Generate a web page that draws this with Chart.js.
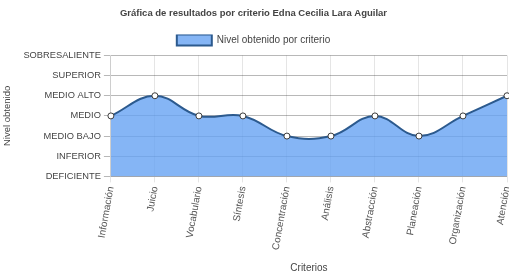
<!DOCTYPE html>
<html>
<head>
<meta charset="utf-8">
<script src="https://cdn.jsdelivr.net/npm/chart.js@4.4.0/dist/chart.umd.min.js"></script>
<style>
  html, body { margin: 0; padding: 0; background: #fff; }
  #wrap { width: 509px; height: 278px; }
</style>
</head>
<body>
<div id="wrap"><canvas id="grafica"></canvas></div>
<script>
var criterios = ['Información', 'Juicio', 'Vocabulario', 'Síntesis', 'Concentración', 'Análisis', 'Abstracción', 'Planeación', 'Organización', 'Atención'];
var niveles = ['DEFICIENTE', 'INFERIOR', 'MEDIO BAJO', 'MEDIO', 'MEDIO ALTO', 'SUPERIOR', 'SOBRESALIENTE'];
var puntaje = [3, 4, 3, 3, 2, 2, 3, 2, 3, 4];

Chart.defaults.font.family = "'Liberation Sans', Arial, sans-serif";
Chart.defaults.color = '#666';

var ctx = document.getElementById('grafica').getContext('2d');
var chart = new Chart(ctx, {
    type: 'line',
    data: {
        labels: criterios,
        datasets: [{
            label: 'Nivel obtenido por criterio',
            data: puntaje,
            fill: true,
            backgroundColor: 'rgba(102, 163, 242, 0.8)',
            borderColor: 'rgb(44, 90, 142)',
            borderWidth: 2,
            tension: 0.4,
            pointRadius: 3,
            pointBackgroundColor: '#fff',
            pointBorderColor: 'rgb(60, 60, 60)',
            pointBorderWidth: 1
        }]
    },
    options: {
        responsive: true,
        maintainAspectRatio: false,
        animation: false,
        layout: { autoPadding: false, padding: { left: 0, right: 2, top: 0, bottom: 0 } },
        plugins: {
            title: {
                display: true,
                text: 'Gráfica de resultados por criterio Edna Cecilia Lara Aguilar',
                color: '#444',
                font: { size: 9.5, weight: 'bold' },
                padding: { top: 8, bottom: 15 }
            },
            legend: {
                labels: {
                    boxWidth: 35,
                    boxHeight: 11,
                    padding: 0,
                    font: { size: 10 },
                    color: '#444'
                }
            },
            tooltip: { enabled: false }
        },
        scales: {
            x: {
                offset: false,
                title: { display: true, text: 'Criterios', font: { size: 10 }, color: '#444', padding: { top: 8, bottom: 4 } },
                ticks: { minRotation: 80, maxRotation: 80, font: { size: 10 }, color: '#555', padding: 3 },
                grid: { color: 'rgba(0,0,0,0.1)', tickLength: 6 },
                afterFit: function (scale) { scale.paddingRight = 0; }
            },
            y: {
                min: 0,
                max: 6,
                title: { display: true, text: 'Nivel obtenido', font: { size: 9.5 }, color: '#444', padding: { top: 2, bottom: 7 } },
                ticks: {
                    stepSize: 1,
                    padding: 3,
                    font: { size: 9.3 },
                    color: '#444',
                    callback: function (v) { return niveles[v]; }
                },
                grid: { color: 'rgba(0,0,0,0.28)', tickLength: 7 }
            }
        }
    }
});
</script>
</body>
</html>
